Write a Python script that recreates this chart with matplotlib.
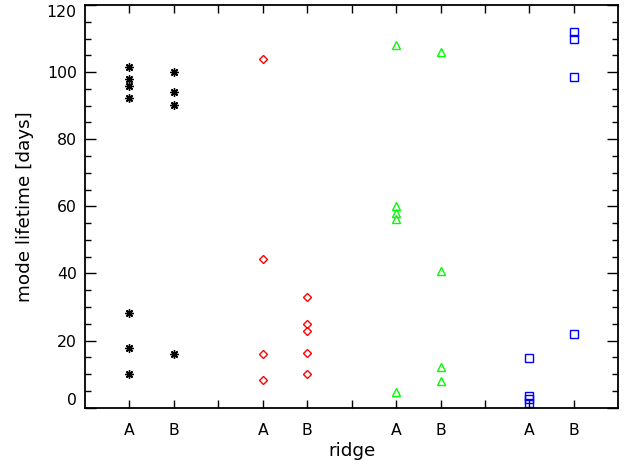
import matplotlib.pyplot as plt
import numpy as np

plt.rcParams['font.family'] = ['DejaVu Sans']

# x positions of the ridges (A, B per group) and measured lifetimes (days)
tick_pos = [1, 2, 3, 4, 5, 6, 7, 8, 9, 10, 11]
tick_lab = ['A', 'B', '', 'A', 'B', '', 'A', 'B', '', 'A', 'B']

black_A = [101.5, 98.0, 96.0, 92.3, 28.2, 17.7, 10.0]
black_B = [100.0, 94.0, 90.2, 16.1]
red_A = [104.0, 44.4, 16.1, 8.2]
red_B = [33.1, 24.9, 22.9, 16.2, 9.9]
green_A = [108.0, 60.2, 58.1, 56.1, 4.6]
green_B = [106.0, 40.8, 12.2, 8.0]
blue_A = [14.8, 3.5, 2.5, 1.3]
blue_B = [112.0, 109.9, 98.5, 22.0]

fig = plt.figure(figsize=(6.43, 4.68), dpi=100)
ax = fig.add_axes([85/643, 1-407.7/468, (618.3-85)/643, (407.7-5)/468])

def put(x, vals, **kw):
    ax.plot(np.full(len(vals), x), vals, linestyle='none', **kw)

star = dict(marker=(8, 2, 0), markersize=6, color='black', markeredgewidth=1.0)
put(1, black_A, **star)
put(2, black_B, **star)

dia = dict(marker='D', markersize=4.2, markerfacecolor='none',
           markeredgecolor='#ff0000', markeredgewidth=1.0)
put(4, red_A, **dia)
put(5, red_B, **dia)

tri = dict(marker='^', markersize=6.2, markerfacecolor='none',
           markeredgecolor='#00ff00', markeredgewidth=1.0)
put(7, green_A, **tri)
put(8, green_B, **tri)

sq = dict(marker='s', markersize=5.4, markerfacecolor='none',
          markeredgecolor='#0000ff', markeredgewidth=1.0)
put(10, blue_A, **sq)
put(11, blue_B, **sq)

ax.set_xlim(0, 12)
ax.set_ylim(0, 120)
ax.set_xticks(tick_pos)
ax.set_xticklabels(tick_lab)
ax.set_yticks(np.arange(0, 121, 20))
ax.set_yticks(np.arange(0, 121, 5), minor=True)

for s in ax.spines.values():
    s.set_linewidth(1.3)

fs = 11.3
ax.tick_params(axis='both', which='both', direction='in', top=True, right=True,
               labelsize=fs, width=1.0)
ax.tick_params(axis='y', which='major', length=7.7, pad=6)
ax.tick_params(axis='y', which='minor', length=4)
ax.tick_params(axis='x', which='major', length=5.8, pad=11)

ylabs = ax.get_yticklabels()
ylabs[0].set_va('bottom')
ylabs[-1].set_va('top')

ax.set_xlabel('ridge', fontsize=13.2, labelpad=3)
ax.set_ylabel('mode lifetime [days]', fontsize=13.2, labelpad=9)

fig.savefig('out.png', dpi=100)
